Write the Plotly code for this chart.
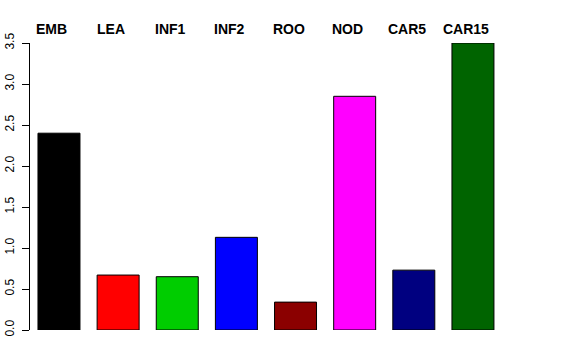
import plotly.graph_objects as go

categories = ["EMB", "LEA", "INF1", "INF2", "ROO", "NOD", "CAR5", "CAR15"]
values = [2.40, 0.67, 0.65, 1.13, 0.34, 2.85, 0.73, 3.50]
colors = ["#000000", "#FF0000", "#00CD00", "#0000FF", "#8B0000", "#FF00FF", "#000080", "#006400"]
y_ticks = [0.0, 0.5, 1.0, 1.5, 2.0, 2.5, 3.0, 3.5]
y_tick_labels = ["0.0", "0.5", "1.0", "1.5", "2.0", "2.5", "3.0", "3.5"]

xpos = list(range(len(categories)))

fig = go.Figure()
fig.add_trace(go.Bar(
    x=xpos, y=values, width=0.71,
    marker=dict(color=colors, line=dict(color="#000000", width=1)),
    hoverinfo="skip",
))

for i, c in enumerate(categories):
    fig.add_annotation(x=i, y=1, xref="x", yref="paper", yshift=14,
                       text="<b>%s</b>" % c, showarrow=False, xshift=-7,
                       font=dict(family="Liberation Sans, Arial, sans-serif", size=14, color="#000000"),
                       yanchor="middle")

fig.update_layout(
    width=576, height=360,
    margin=dict(l=30, r=0, t=43, b=30, pad=0),
    paper_bgcolor="white", plot_bgcolor="white",
    showlegend=False,
    font=dict(family="Liberation Sans, Arial, sans-serif", size=12, color="#000000"),
    xaxis=dict(range=[-0.49, -0.49 + 546 / 59.14], visible=False, showgrid=False, zeroline=False),
    yaxis=dict(range=[0, 3.5], tickmode="array", tickvals=y_ticks, ticktext=y_tick_labels,
               tickangle=-90, ticks="outside", ticklen=7, tickwidth=1, tickcolor="#000000",
               showline=True, linecolor="#000000", linewidth=1, showgrid=False, zeroline=False,
               tickfont=dict(size=12), ticklabelstandoff=3, automargin=False),
)

fig.write_html("out.html", config={"displayModeBar": False},
               post_script="document.body.style.margin='0';document.body.style.overflow='hidden';")
